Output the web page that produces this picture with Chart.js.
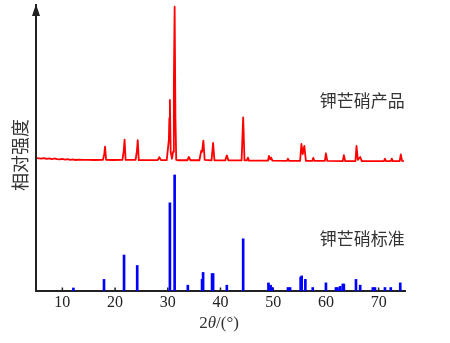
<!DOCTYPE html>
<html>
<head>
<meta charset="utf-8">
<script src="https://cdn.jsdelivr.net/npm/chart.js@4/dist/chart.umd.min.js"></script>
<style>
  html, body { margin: 0; padding: 0; background: #fff; }
  #wrap { width: 450px; height: 343px; }
</style>
</head>
<body>
<div id="wrap"><canvas id="c" width="450" height="343"></canvas></div>
<script>
// Measured pattern of the product: 2θ (°) and intensity, shifted upward
// so that it sits above the reference lines.
const productAngle = [
  5.2, 6.0, 6.5, 7.0, 7.5, 8.0, 8.5, 9.0, 9.5, 10.0, 10.5, 11.0, 11.5, 12.0, 12.5, 13.0,
  14.0, 15.0, 16.0, 17.7, 17.95, 18.1, 18.3, 19.5,
  21.4, 21.65, 21.8, 22.0, 23.9, 24.15, 24.3, 24.5, 26.0,
  28.1, 28.4, 28.7, 29.8,
  30.2, 30.3, 30.4, 30.55, 30.8, 31.0, 31.15, 31.3, 31.45, 31.6, 32.0,
  33.7, 34.0, 34.3, 36.0, 36.35, 36.5, 36.75, 37.0,
  38.3, 38.6, 38.85, 40.9, 41.2, 41.5,
  44.0, 44.3, 44.55, 45.0, 45.2, 45.4,
  49.0, 49.2, 49.45, 49.6, 49.85,
  52.6, 52.8, 53.0, 55.1, 55.35, 55.6, 55.9, 56.2,
  57.4, 57.6, 57.8, 59.8, 60.0, 60.25,
  63.2, 63.4, 63.65, 65.6, 65.8, 66.05, 66.5, 66.8,
  71.0, 71.2, 71.4, 72.3, 72.5, 72.7, 74.0, 74.2, 74.45, 74.8
];
const productIntensity = [
  114.5, 114.0, 114.6, 113.8, 114.3, 113.6, 114.2, 113.7, 113.4, 113.8, 113.2, 113.6, 113.0, 113.5, 112.9, 113.2,
  113.0, 113.0, 112.9, 113.0, 118.0, 124.5, 113.0, 112.9,
  113.0, 121.0, 130.5, 113.0, 113.0, 121.0, 130.0, 112.8, 112.8,
  112.8, 115.4, 112.8, 112.8,
  130.0, 149.0, 164.7, 120.0, 114.0, 120.0, 177.6, 245.0, 150.0, 113.0, 112.7,
  112.7, 115.5, 112.7, 112.7, 121.0, 120.0, 129.6, 113.0,
  112.6, 127.6, 112.6, 112.6, 116.9, 112.5,
  112.5, 149.7, 112.5, 112.5, 115.0, 112.4,
  112.3, 116.4, 113.5, 115.0, 112.3,
  112.2, 114.0, 112.2, 112.2, 126.7, 118.0, 125.0, 112.2,
  112.1, 114.7, 112.1, 112.1, 118.7, 112.1,
  112.0, 117.0, 112.0, 112.0, 125.0, 113.0, 115.5, 112.0,
  112.0, 114.0, 112.0, 112.0, 114.0, 112.0, 112.0, 117.8, 112.2, 112.0
];

// Reference card lines: 2θ (°) and relative intensity (strongest = 100)
const standardAngle = [
  12.1, 17.9, 21.7, 24.2, 30.4, 31.3, 33.8, 36.5, 36.7, 38.4, 38.6, 41.2,
  44.3, 49.1, 49.5, 49.8, 52.8, 53.2, 55.2, 55.4, 56.1, 57.5, 60.0,
  61.9, 62.2, 62.7, 63.2, 63.4, 65.7, 66.5, 68.9, 69.3, 71.2, 72.3, 74.1
];
const standardIntensity = [
  2.6, 10, 31, 22, 76, 100, 5, 10, 16, 15, 15, 5,
  45, 7, 5, 3, 3, 3, 12, 13, 10, 3, 7,
  3, 3, 4, 6, 6, 10, 5, 3, 3, 3, 3, 7
];

const xTicks = [10, 20, 30, 40, 50, 60, 70];
const xRange = [5, 75];
const yRange = [0, 246.5];

const yTitle = '相对强度';
const xTitleParts = ['2', 'θ', '/(°)'];
const productLabel = '钾芒硝产品';
const standardLabel = '钾芒硝标准';

const axisColor = '#222';
const textColor = '#333';
const cjkFont = '"Noto Sans CJK SC", "Noto Sans", sans-serif';
const serifFont = '"Liberation Serif", "DejaVu Serif", serif';

const productPoints = productAngle.map((a, i) => ({ x: a, y: productIntensity[i] }));
const standardPoints = standardAngle.map((a, i) => ({ x: a, y: standardIntensity[i] }));

// Axis arrow, inward tick marks, titles and pattern labels
const decorations = {
  id: 'decorations',
  beforeDatasetsDraw(chart) {
    const { ctx, chartArea, scales: { x } } = chart;
    ctx.save();
    ctx.strokeStyle = axisColor;
    ctx.lineWidth = 1.5;
    xTicks.forEach(t => {
      const px = x.getPixelForValue(t);
      ctx.beginPath();
      ctx.moveTo(px, chartArea.bottom);
      ctx.lineTo(px, chartArea.bottom - 3.5);
      ctx.stroke();
    });
    ctx.restore();
  },
  afterDraw(chart) {
    const { ctx, chartArea, scales: { x, y } } = chart;
    ctx.save();
    // arrow head on top of the intensity axis
    const ax = chartArea.left;
    ctx.fillStyle = axisColor;
    ctx.beginPath();
    ctx.moveTo(ax, chartArea.top - 1);
    ctx.lineTo(ax - 4, chartArea.top + 11);
    ctx.lineTo(ax + 4, chartArea.top + 11);
    ctx.closePath();
    ctx.fill();

    // intensity axis title
    ctx.fillStyle = textColor;
    ctx.font = '18px ' + cjkFont;
    ctx.textAlign = 'center';
    ctx.textBaseline = 'middle';
    ctx.translate(20, (chartArea.top + chartArea.bottom) / 2 + 7);
    ctx.rotate(-Math.PI / 2);
    ctx.fillText(yTitle, 0, 0);
    ctx.setTransform(1, 0, 0, 1, 0, 0);

    // 2θ axis title with italic theta
    ctx.textAlign = 'left';
    ctx.textBaseline = 'middle';
    const fonts = ['17px ' + serifFont, 'italic 17px ' + serifFont, '17px ' + serifFont];
    let w = 0;
    xTitleParts.forEach((p, i) => { ctx.font = fonts[i]; w += ctx.measureText(p).width; });
    let tx = 219 - w / 2;
    const ty = 324;
    xTitleParts.forEach((p, i) => {
      ctx.font = fonts[i];
      ctx.fillText(p, tx, ty);
      tx += ctx.measureText(p).width;
    });

    // pattern labels
    ctx.font = '17px ' + cjkFont;
    ctx.textAlign = 'center';
    ctx.fillText(productLabel, x.getPixelForValue(66.9), y.getPixelForValue(163.8));
    ctx.fillText(standardLabel, x.getPixelForValue(66.9), y.getPixelForValue(44.8));
    ctx.restore();
  }
};

new Chart(document.getElementById('c'), {
  data: {
    datasets: [
      {
        type: 'line',
        data: productPoints,
        borderColor: '#ff0000',
        borderWidth: 1.8,
        borderJoinStyle: 'round',
        pointRadius: 0,
        tension: 0,
        fill: false
      },
      {
        type: 'bar',
        data: standardPoints,
        backgroundColor: '#0000ff',
        borderWidth: 0,
        barThickness: 2
      }
    ]
  },
  options: {
    responsive: false,
    animation: false,
    events: [],
    layout: { padding: { top: 5, right: 45, left: 0, bottom: 0 } },
    plugins: { legend: { display: false }, tooltip: { enabled: false } },
    scales: {
      x: {
        type: 'linear',
        offset: false,
        min: xRange[0],
        max: xRange[1],
        afterBuildTicks(scale) { scale.ticks = xTicks.map(v => ({ value: v })); },
        afterFit(scale) { scale.height = 52; },
        grid: { display: false, drawTicks: false, offset: false },
        border: { display: true, color: axisColor, width: 2 },
        ticks: {
          padding: 2,
          color: axisColor,
          font: { family: serifFont, size: 16 },
          maxRotation: 0,
          autoSkip: false
        }
      },
      y: {
        type: 'linear',
        min: yRange[0],
        max: yRange[1],
        afterFit(scale) { scale.width = 36; },
        grid: { display: false, drawTicks: false },
        border: { display: true, color: axisColor, width: 2 },
        ticks: { display: false }
      }
    }
  },
  plugins: [decorations]
});
</script>
</body>
</html>
